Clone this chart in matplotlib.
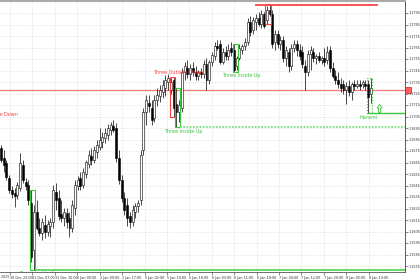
import numpy as np
import matplotlib.pyplot as plt
from matplotlib.patches import Rectangle, FancyArrow

# hourly bars, price in chart points (1 point = 1 px of the reference)
opens = [124, 114, 109, 94, 82, 79, 77, 84, 107, 90,
         87, 69, 22, 60, 44, 39, 47, 40, 46, 50,
         80, 74, 58, 54, 59, 54, 44, 64, 86, 94,
         87, 98, 108, 116, 112, 120, 125, 130, 134, 137,
         142, 146, 144, 114, 92, 74, 67, 56, 50, 60,
         66, 72, 122, 160, 169, 164, 154, 172, 176, 180,
         184, 190, 182, 192, 168, 160, 164, 200, 204, 198,
         204, 200, 196, 200, 198, 208, 192, 210, 216, 226,
         228, 210, 220, 216, 224, 222, 206, 214, 222, 226,
         230, 250, 242, 250, 254, 248, 258, 252, 262, 258,
         230, 238, 228, 232, 214, 220, 206, 224, 228, 222,
         220, 206, 200, 218, 220, 214, 216, 212, 214, 212,
         222, 204, 196, 192, 188, 188, 182, 186, 180, 188,
         186, 188, 188, 188, 188, 178]
highs = [127, 122, 112, 97, 86, 84, 90, 119, 112, 94,
         92, 82, 67, 72, 54, 54, 57, 52, 54, 87,
         89, 82, 72, 64, 64, 60, 72, 92, 96, 100,
         104, 112, 122, 124, 126, 132, 144, 140, 144, 148,
         150, 152, 149, 122, 97, 80, 74, 60, 67, 69,
         72, 122, 164, 177, 177, 172, 177, 184, 187, 192,
         197, 198, 194, 195, 184, 172, 204, 210, 212, 208,
         210, 206, 202, 204, 212, 214, 212, 220, 230, 232,
         232, 224, 226, 228, 230, 228, 216, 228, 228, 234,
         254, 256, 255, 258, 260, 262, 260, 266, 268, 262,
         242, 242, 236, 236, 226, 224, 228, 232, 232, 228,
         226, 212, 222, 226, 224, 218, 220, 216, 224, 226,
         226, 210, 202, 200, 194, 192, 190, 192, 190, 192,
         192, 192, 192, 192, 192, 194]
lows = [110, 100, 92, 79, 74, 65, 73, 81, 89, 82,
        67, 10, 2, 42, 36, 32, 34, 36, 35, 44,
        62, 52, 50, 46, 44, 35, 40, 57, 82, 82,
        84, 94, 104, 107, 109, 114, 122, 124, 129, 132,
        137, 140, 110, 88, 70, 57, 46, 44, 46, 54,
        60, 67, 117, 147, 160, 147, 150, 166, 170, 174,
        176, 182, 178, 155, 145, 150, 160, 192, 194, 192,
        196, 192, 192, 194, 194, 182, 188, 206, 212, 222,
        208, 208, 212, 212, 216, 200, 202, 212, 218, 222,
        227, 236, 238, 242, 246, 244, 244, 248, 256, 224,
        222, 224, 222, 210, 206, 200, 202, 220, 216, 212,
        204, 182, 196, 202, 210, 208, 210, 208, 206, 208,
        200, 194, 188, 184, 180, 178, 168, 176, 172, 182,
        184, 182, 184, 182, 159, 169]
closes = [112, 107, 95, 82, 78, 76, 87, 109, 92, 86,
          72, 15, 60, 44, 39, 50, 40, 48, 50, 82,
          72, 56, 54, 60, 50, 44, 67, 87, 92, 86,
          100, 110, 117, 112, 122, 127, 132, 135, 139, 144,
          147, 142, 114, 92, 74, 62, 54, 50, 62, 66,
          69, 117, 160, 172, 166, 152, 172, 177, 182, 187,
          192, 194, 190, 164, 160, 167, 200, 206, 198, 204,
          200, 196, 200, 198, 208, 192, 210, 217, 226, 224,
          210, 220, 216, 222, 220, 202, 214, 224, 226, 230,
          250, 240, 252, 254, 248, 258, 246, 262, 258, 228,
          238, 228, 232, 214, 222, 206, 224, 228, 222, 216,
          208, 200, 218, 222, 214, 216, 212, 214, 210, 220,
          204, 196, 192, 188, 184, 182, 186, 180, 188, 186,
          188, 186, 190, 186, 175, 184]

first_label = "29 Dec 2025"
time_labels = ["30 Dec 22:00", "31 Dec 07:00", "31 Dec 15:00",
               "2 Jan 00:00", "2 Jan 09:00", "2 Jan 17:00", "5 Jan 02:00",
               "5 Jan 10:00", "5 Jan 18:00", "6 Jan 03:00", "6 Jan 11:00",
               "6 Jan 19:00", "7 Jan 04:00", "7 Jan 12:00", "7 Jan 20:00",
               "8 Jan 05:00", "8 Jan 13:00"]
price_labels = ["1.1795", "1.1785", "1.1775", "1.1765", "1.1755", "1.1745",
                "1.1735", "1.1725", "1.1715", "1.1705", "1.1695", "1.1685",
                "1.1675", "1.1665", "1.1655", "1.1645", "1.1635", "1.1625",
                "1.1615", "1.1605", "1.1595", "1.1585", "1.1575"]

# candle patterns: name, first bar, last bar, colour
patterns = [("Three Inside Up", 11, 12, "#3cc43c"),
            ("Three Outside Down", 62, 63, "#ff4040"),
            ("Three Inside Up", 64, 65, "#3cc43c"),
            ("Three Inside Up", 85, 86, "#3cc43c"),
            ("Three Outside Down", 97, 98, "#ff4040"),
            ("Harami", 134, 135, "#3cc43c")]
level_price = 182

o = np.array(opens); h = np.array(highs); l = np.array(lows); c = np.array(closes)
x = np.arange(len(o))
up = c >= o

fig = plt.figure(figsize=(4.2, 2.8), dpi=100)
ax = fig.add_axes([0, 8 / 280, 405 / 420, 271 / 280])
ax.set_xlim(-0.365, 147.45)
ax.set_ylim(0, 271)

# grid / ticks
xt = 3.3 + 8.18 * np.arange(len(time_labels))
yt = 259 - 11.5 * np.arange(len(price_labels))
ax.set_xticks(xt)
ax.set_xticklabels(time_labels, fontsize=2.4, ha="left")
ax.set_yticks(yt)
ax.set_yticklabels(price_labels, fontsize=2.4)
ax.yaxis.tick_right()
ax.tick_params(axis="both", length=2, width=0.4, pad=0.8, colors="#333333")
ax.grid(True, ls=(0, (1, 1.5)), color="#d4d4d4", lw=0.5)
ax.set_axisbelow(True)
ax.spines["left"].set_visible(False)
ax.spines["top"].set_color("#aaaaaa")
ax.spines["top"].set_linewidth(1.5)
ax.spines["right"].set_color("#555555")
ax.spines["right"].set_linewidth(0.7)
ax.spines["bottom"].set_color("#555555")
ax.spines["bottom"].set_linewidth(0.6)
# the earlier date label is mostly off the left edge
fig.text(-12 / 420, 1.5 / 280, first_label, fontsize=2.4, color="#333333", ha="left", va="bottom")

# level line
ax.axhline(level_price, color="#f07878", lw=0.9, zorder=1)
ax.add_patch(Rectangle((1.0, level_price - 3), 0.015, 6, transform=ax.get_yaxis_transform(),
                       fc="#ff6060", ec="#d02020", lw=0.5, clip_on=False, zorder=5))

# candles
ax.vlines(x, l, h, color="black", lw=0.5, zorder=2)
ax.bar(x, np.maximum(np.abs(c - o), 0.6), bottom=np.minimum(o, c), width=0.72,
       color=np.where(up, "white", "black"), edgecolor="black", linewidth=0.4, zorder=3)

# patterns
for name, i0, i1, col in patterns:
    lo = l[i0:i1 + 1].min(); hi = h[i0:i1 + 1].max()
    ls = ":" if name == "Harami" else "-"
    ax.add_patch(Rectangle((i0 - 0.5, lo), i1 - i0 + 1, hi - lo, fill=False,
                           ec=col, lw=0.8, ls=ls, zorder=4))
    if col == "#ff4040":
        t = ax.text(i1 + 1.5, hi + 2, name, color=col, fontsize=3.5, ha="center", va="bottom", zorder=6)
    elif name == "Harami":
        t = ax.text(i0 + 0.2, lo - 2, name, color=col, fontsize=3.5, ha="center", va="top", zorder=6)
    else:
        t = ax.text(i1 + 1.5, lo - 1.5, name, color=col, fontsize=3.5, ha="center", va="top", zorder=6)
    t.set_clip_on(True)

# pattern follow-up lines
ax.hlines(l[11:13].min(), 12.5, 147.45, color="#5cd65c", lw=1.3, zorder=4)
ax.hlines(l[64:66].min(), 65.5, 147.45, color="#7ee07e", lw=1.3, ls=(0, (1, 0.8)), zorder=4)
ax.hlines(l[134:136].min(), 133.7, 147.45, color="#3cc43c", lw=1.0, zorder=4)
ax.hlines(h[97:99].max() - 0.5, 92.7, 137.6, color="#ff4848", lw=1.3, zorder=4)
ax.add_patch(FancyArrow(138.2, l[134] + 0.5, 0, 4.5, width=0.8, head_width=1.8,
                        head_length=3.5, fc="white", ec="#3cc43c", lw=0.6, zorder=6))
ax.text(6.2, 157, "Three Outside Down", color="#ff4040", fontsize=3.5, ha="right", va="center")

fig.savefig("out.png", dpi=100)
